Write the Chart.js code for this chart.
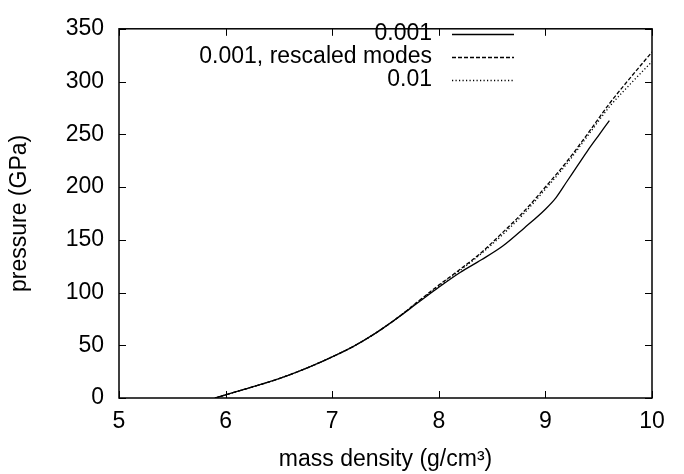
<!DOCTYPE html>
<html>
<head>
<meta charset="utf-8">
<script src="https://cdn.jsdelivr.net/npm/chart.js"></script>
<style>
  body { margin: 0; background: #fff; }
</style>
</head>
<body>
<canvas id="pChart" width="684" height="474"></canvas>
<script>
// data
var xSolid = [5.9, 6.0, 6.2, 6.4, 6.6, 6.8, 7.0, 7.2, 7.4, 7.6, 7.8, 8.0, 8.2, 8.4, 8.6, 8.8, 9.0, 9.1, 9.2, 9.3, 9.4, 9.5, 9.6];
var ySolid = [0, 3, 9, 15, 22, 30, 39, 49, 61, 75, 90, 105, 119, 131, 144, 161, 179, 190, 205, 220, 235, 249, 263];

var xRescaled = [5.9, 6.0, 6.2, 6.4, 6.6, 6.8, 7.0, 7.2, 7.4, 7.6, 7.8, 8.0, 8.2, 8.4, 8.6, 8.8, 9.0, 9.2, 9.4, 9.6, 9.8, 10.0];
var yRescaled = [0, 3, 9, 15, 22, 30, 39, 49, 61, 75, 91, 107, 122, 138, 157, 177, 200, 224, 251, 279, 304, 328];

var x001 = [5.9, 6.0, 6.2, 6.4, 6.6, 6.8, 7.0, 7.2, 7.4, 7.6, 7.8, 8.0, 8.2, 8.4, 8.6, 8.8, 9.0, 9.2, 9.4, 9.6, 9.8, 10.0];
var y001 = [0, 3, 9, 15, 22, 30, 39, 49, 61, 75, 91, 106, 121, 137, 155, 175, 198, 222, 249, 276, 298, 319];

var xTicks = [5, 6, 7, 8, 9, 10];
var yTicks = [0, 50, 100, 150, 200, 250, 300, 350];
var labels = ['0.001', '0.001, rescaled modes', '0.01'];

var FONT = 'Liberation Sans, Arial, Helvetica, sans-serif';
var FS = 23;

function pts(xs, ys) {
    return xs.map(function(x, i) { return {x: x, y: ys[i]}; });
}

function ds(label, xs, ys, dash) {
    return {
        label: label,
        data: pts(xs, ys),
        borderColor: '#000',
        borderWidth: 1.3,
        borderDash: dash,
        pointRadius: 0,
        fill: false,
        cubicInterpolationMode: 'monotone'
    };
}

// frame, inward ticks (mirrored), legend and axis titles the gnuplot way
var gnuplotBits = {
    id: 'gnuplotBits',
    afterDraw: function(chart) {
        var ctx = chart.ctx, a = chart.chartArea;
        var sx = chart.scales.x, sy = chart.scales.y;
        ctx.save();
        ctx.strokeStyle = '#000';
        ctx.lineWidth = 1.5;
        ctx.setLineDash([]);
        ctx.strokeRect(a.left, a.top, a.right - a.left, a.bottom - a.top);
        ctx.lineWidth = 1;
        ctx.beginPath();
        xTicks.forEach(function(v) {
            var px = Math.round(sx.getPixelForValue(v)) + 0.5;
            ctx.moveTo(px, a.bottom); ctx.lineTo(px, a.bottom - 7);
            ctx.moveTo(px, a.top); ctx.lineTo(px, a.top + 7);
        });
        yTicks.forEach(function(v) {
            var py = Math.round(sy.getPixelForValue(v)) + 0.5;
            ctx.moveTo(a.left, py); ctx.lineTo(a.left + 7, py);
            ctx.moveTo(a.right, py); ctx.lineTo(a.right - 7, py);
        });
        ctx.stroke();

        // legend: text right aligned, line sample after it
        ctx.font = FS + 'px ' + FONT;
        ctx.fillStyle = '#000';
        ctx.textAlign = 'right';
        ctx.textBaseline = 'middle';
        chart.data.datasets.forEach(function(d, i) {
            var y = 34 + i * 23;
            ctx.fillText(d.label, 432, y);
            ctx.beginPath();
            ctx.lineWidth = 1.3;
            ctx.setLineDash(d.borderDash || []);
            ctx.moveTo(452, y + 0.5);
            ctx.lineTo(514, y + 0.5);
            ctx.stroke();
        });
        ctx.setLineDash([]);

        // axis titles
        ctx.textAlign = 'center';
        ctx.fillText('mass density (g/cm\u00b3)', (a.left + a.right) / 2, 460);
        ctx.translate(20, (a.top + a.bottom) / 2);
        ctx.rotate(-Math.PI / 2);
        ctx.fillText('pressure (GPa)', 0, 0);
        ctx.restore();
    }
};

new Chart(document.getElementById('pChart'), {
    type: 'line',
    data: {
        datasets: [
            ds(labels[0], xSolid, ySolid, []),
            ds(labels[1], xRescaled, yRescaled, [4, 2]),
            ds(labels[2], x001, y001, [1.2, 2.3])
        ]
    },
    options: {
        responsive: false,
        animation: false,
        layout: { padding: { left: 0, right: 32, top: 14, bottom: 0 } },
        plugins: {
            legend: { display: false },
            tooltip: { enabled: false }
        },
        scales: {
            x: {
                type: 'linear',
                min: 5, max: 10,
                afterFit: function(s) { s.height = 76; },
                grid: { display: false, drawTicks: false },
                border: { display: false },
                ticks: {
                    stepSize: 1,
                    padding: 10,
                    color: '#000',
                    font: { family: FONT, size: FS }
                }
            },
            y: {
                min: 0, max: 350,
                afterFit: function(s) { s.width = 119; },
                grid: { display: false, drawTicks: false },
                border: { display: false },
                ticks: {
                    stepSize: 50,
                    padding: 15,
                    color: '#000',
                    font: { family: FONT, size: FS }
                }
            }
        }
    },
    plugins: [gnuplotBits]
});
</script>
</body>
</html>
